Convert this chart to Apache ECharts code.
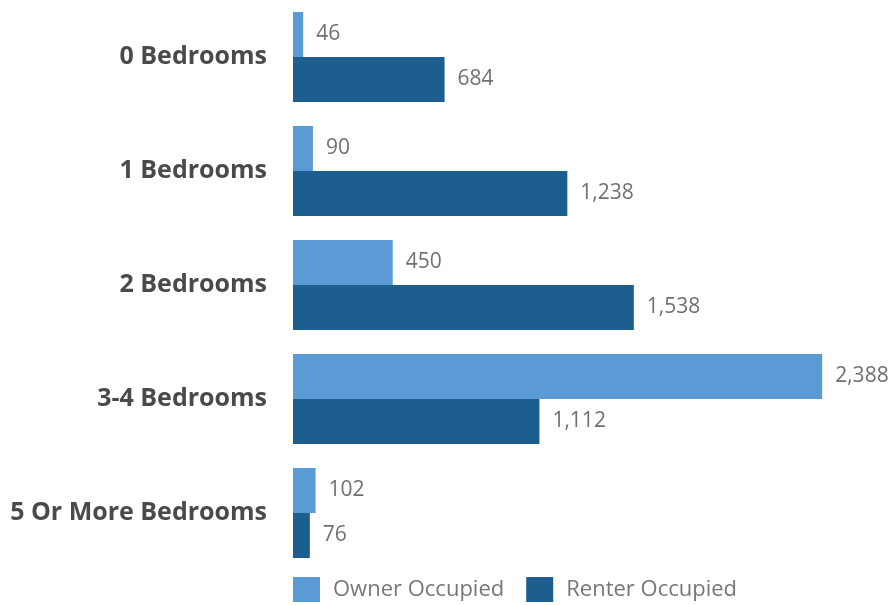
<!DOCTYPE html>
<html>
<head>
<meta charset="utf-8">
<script src="https://cdn.jsdelivr.net/npm/echarts@6/dist/echarts.min.js"></script>
<style>
html, body { margin: 0; padding: 0; background: #fff; }
#chart { width: 896px; height: 605px; }
</style>
</head>
<body>
<div id="chart"></div>
<script>
var categories = ['0 Bedrooms', '1 Bedrooms', '2 Bedrooms', '3-4 Bedrooms', '5 Or More Bedrooms'];
var ownerValues = [46, 90, 450, 2388, 102];
var renterValues = [684, 1238, 1538, 1112, 76];

var chart = echarts.init(document.getElementById('chart'));

var labelStyle = {
	show: true,
	position: 'right',
	distance: 13,
	color: '#707070',
	fontSize: 21,
	fontFamily: 'Open Sans',
	formatter: function(p) {
		return p.value.toLocaleString('en-US');
	}
};

chart.setOption({
	backgroundColor: '#fff',
	animation: false,
	grid: {
		left: 293,
		right: 49,
		top: 0,
		bottom: 35
	},
	legend: {
		left: 293,
		top: 577,
		padding: 0,
		icon: 'rect',
		itemWidth: 27,
		itemHeight: 25,
		itemGap: 22,
		textStyle: {
			color: '#777',
			fontSize: 22,
			fontFamily: 'Open Sans',
			padding: [0, 0, 0, 8]
		},
		data: ['Owner Occupied', 'Renter Occupied']
	},
	xAxis: {
		type: 'value',
		min: 0,
		max: 2500,
		show: false
	},
	yAxis: {
		type: 'category',
		inverse: true,
		data: categories,
		axisLine: { show: false },
		axisTick: { show: false },
		axisLabel: {
			margin: 26,
			color: '#4a4a4a',
			fontSize: 25,
			fontWeight: 'bold',
			fontFamily: 'Open Sans'
		}
	},
	series: [{
		name: 'Owner Occupied',
		type: 'bar',
		data: ownerValues,
		barWidth: 45,
		barGap: '0%',
		itemStyle: { color: '#5b9bd5' },
		label: labelStyle
	}, {
		name: 'Renter Occupied',
		type: 'bar',
		data: renterValues,
		barWidth: 45,
		barGap: '0%',
		itemStyle: { color: '#1c5e8e' },
		label: labelStyle
	}]
});
</script>
</body>
</html>
